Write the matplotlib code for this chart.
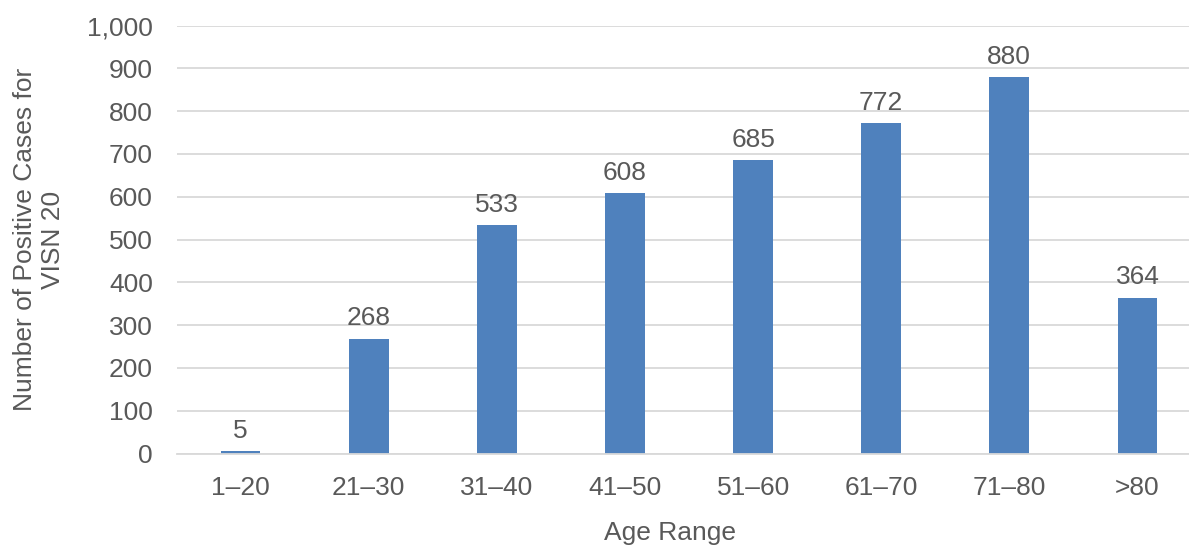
import matplotlib
matplotlib.use("Agg")
import matplotlib.pyplot as plt
from matplotlib.ticker import FuncFormatter

age_ranges = ["1–20", "21–30", "31–40", "41–50", "51–60", "61–70", "71–80", ">80"]
positive_cases = [5, 268, 533, 608, 685, 772, 880, 364]

text_color = "#595959"
grid_color = "#d9d9d9"
bar_color = "#4f81bd"

plt.rcParams["font.family"] = ["Liberation Sans", "DejaVu Sans"]

fig = plt.figure(figsize=(11.89, 5.48), dpi=100)
ax = fig.add_axes([0.1485, 0.1724, 0.862, 0.781])

x = range(len(age_ranges))
ax.bar(x, positive_cases, width=0.31, color=bar_color, zorder=3)

for xi, v in zip(x, positive_cases):
    ax.annotate(str(v), (xi, v), xytext=(0, 6), textcoords="offset points",
                ha="center", va="bottom", fontsize=19, color=text_color)

ax.set_xlim(-0.5, len(age_ranges) - 0.5)
ax.set_ylim(0, 1000)
ax.set_yticks(range(0, 1001, 100))
ax.yaxis.set_major_formatter(FuncFormatter(lambda v, p: f"{int(v):,}"))
ax.set_xticks(list(x))
ax.set_xticklabels(age_ranges)

ax.grid(axis="y", color=grid_color, linewidth=1.3, zorder=0)
for side in ["top", "right", "left"]:
    ax.spines[side].set_visible(False)
ax.spines["bottom"].set_color(grid_color)
ax.spines["bottom"].set_linewidth(1.3)
ax.spines["bottom"].set_zorder(4)

ax.tick_params(axis="both", length=0, labelsize=19, colors=text_color)
ax.tick_params(axis="y", pad=17)
ax.tick_params(axis="x", pad=16)

ax.set_xlabel("Age Range", fontsize=19, color=text_color)
ax.xaxis.set_label_coords(0.481, -0.157)
ax.set_ylabel("Number of Positive Cases for\nVISN 20", fontsize=19, color=text_color,
              labelpad=16, linespacing=1.2)

fig.savefig("out.png", dpi=100)
